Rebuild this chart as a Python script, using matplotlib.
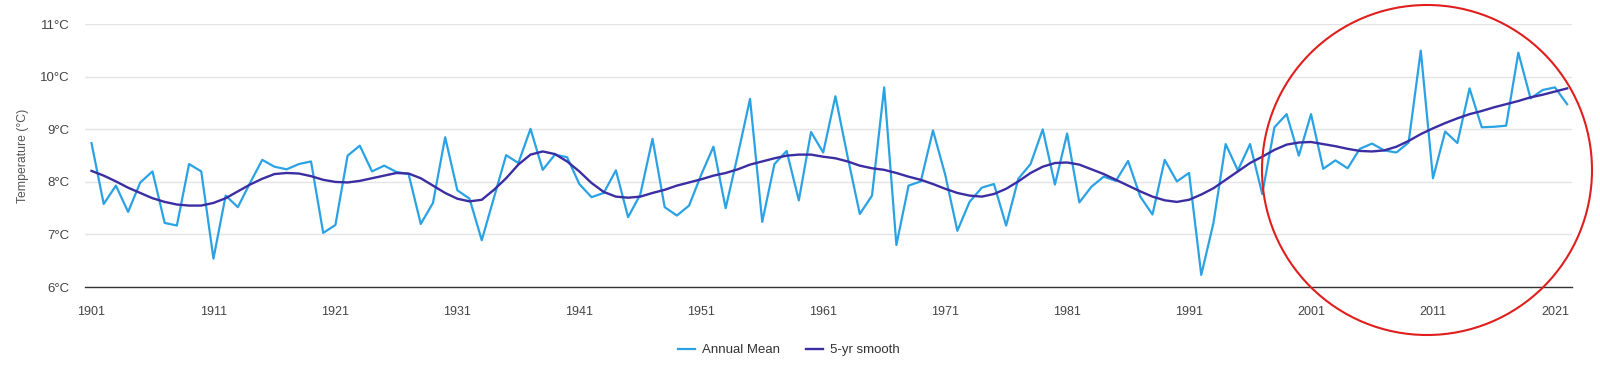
import matplotlib
matplotlib.use('Agg')
import numpy as np
import matplotlib.pyplot as plt
from matplotlib.patches import Ellipse

plt.rcParams['font.family'] = ['Liberation Sans', 'DejaVu Sans']

# years 1901-2022
years = np.arange(1901, 2023)

# annual mean temperature (°C)
annual_mean = [
    8.74, 7.58, 7.93, 7.43, 7.99, 8.20, 7.22, 7.17, 8.34, 8.20,   # 1901-1910
    6.54, 7.74, 7.52, 7.98, 8.42, 8.29, 8.24, 8.34, 8.39, 7.03,   # 1911-1920
    7.18, 8.50, 8.69, 8.20, 8.31, 8.19, 8.15, 7.20, 7.60, 8.85,   # 1921-1930
    7.84, 7.68, 6.89, 7.70, 8.51, 8.36, 9.01, 8.23, 8.52, 8.47,   # 1931-1940
    7.96, 7.71, 7.79, 8.22, 7.33, 7.76, 8.82, 7.52, 7.36, 7.55,   # 1941-1950
    8.14, 8.67, 7.50, 8.52, 9.58, 7.24, 8.34, 8.59, 7.65, 8.95,   # 1951-1960
    8.56, 9.63, 8.48, 7.39, 7.74, 9.80, 6.80, 7.93, 8.01, 8.98,   # 1961-1970
    8.14, 7.07, 7.62, 7.89, 7.96, 7.17, 8.06, 8.34, 9.00, 7.95,   # 1971-1980
    8.92, 7.61, 7.91, 8.10, 8.02, 8.40, 7.72, 7.38, 8.42, 8.01,   # 1981-1990
    8.17, 6.23, 7.22, 8.72, 8.22, 8.72, 7.77, 9.04, 9.29, 8.50,   # 1991-2000
    9.29, 8.25, 8.41, 8.26, 8.63, 8.73, 8.60, 8.56, 8.75, 10.50,  # 2001-2010
    8.07, 8.96, 8.74, 9.78, 9.04, 9.05, 9.07, 10.46, 9.59, 9.75,  # 2011-2020
    9.80, 9.48,                                                   # 2021-2022
]

# 5-yr smooth
smooth = [
    8.21, 8.12, 8.01, 7.89, 7.79, 7.69, 7.62, 7.57, 7.55, 7.55,
    7.60, 7.69, 7.82, 7.95, 8.06, 8.15, 8.17, 8.16, 8.11, 8.04,
    8.00, 7.99, 8.02, 8.07, 8.12, 8.17, 8.16, 8.07, 7.93, 7.79,
    7.68, 7.63, 7.66, 7.85, 8.07, 8.33, 8.52, 8.58, 8.53, 8.39,
    8.20, 7.98, 7.81, 7.72, 7.70, 7.72, 7.79, 7.85, 7.93, 7.99,
    8.05, 8.12, 8.17, 8.24, 8.33, 8.39, 8.45, 8.50, 8.52, 8.52,
    8.48, 8.45, 8.39, 8.31, 8.26, 8.23, 8.17, 8.10, 8.04, 7.96,
    7.87, 7.79, 7.74, 7.72, 7.77, 7.87, 8.01, 8.17, 8.29, 8.36,
    8.37, 8.33, 8.24, 8.15, 8.04, 7.93, 7.82, 7.72, 7.65, 7.62,
    7.66, 7.76, 7.88, 8.04, 8.20, 8.36, 8.48, 8.61, 8.71, 8.75,
    8.76, 8.72, 8.68, 8.63, 8.59, 8.58, 8.60, 8.67, 8.78, 8.91,
    9.02, 9.12, 9.21, 9.29, 9.35, 9.42, 9.48, 9.54, 9.61, 9.66,
    9.72, 9.78,
]

y_ticks = [6, 7, 8, 9, 10, 11]
x_ticks = [1901, 1911, 1921, 1931, 1941, 1951, 1961, 1971, 1981, 1991, 2001, 2011, 2021]

fig = plt.figure(figsize=(16, 3.81), dpi=100, facecolor='white')
ax = fig.add_axes([0.053, 0.2467, 0.9295, 0.6895])

ax.plot(years, annual_mean, color='#2aa2e4', lw=1.6, label='Annual Mean', zorder=3)
ax.plot(years, smooth, color='#3b2ea3', lw=1.7, label='5-yr smooth', zorder=4)

ax.set_xlim(1900.45, 2022.4)
ax.set_ylim(6, 11)
ax.set_yticks(y_ticks)
ax.set_yticklabels(['%d°C' % t for t in y_ticks])
ax.set_xticks(x_ticks)
ax.set_xticklabels([str(t) for t in x_ticks])

ax.grid(axis='y', color='#e4e4e4', lw=1.0)
ax.set_axisbelow(True)
for s in ['top', 'right', 'left']:
    ax.spines[s].set_visible(False)
ax.spines['bottom'].set_color('#333333')
ax.spines['bottom'].set_linewidth(1.0)
ax.spines['bottom'].set_zorder(5)
ax.tick_params(axis='both', length=0, labelsize=9, colors='#444444')
ax.tick_params(axis='x', pad=14)
ax.tick_params(axis='y', pad=11, labelsize=9.5)
ax.set_ylabel('Temperature (°C)', fontsize=8.8, color='#555555', labelpad=8)

fig.legend(loc='center', bbox_to_anchor=(0.493, 0.081), ncol=2, frameon=False,
           fontsize=9.5, handlelength=1.3, handletextpad=0.5, columnspacing=2.0,
           labelcolor='#333333')

# red circle highlighting the recent years
circ = Ellipse((1427 / 1600, 1 - 170 / 381), 330 / 1600, 330 / 381,
               transform=fig.transFigure, fill=False, edgecolor='#e01e1e', lw=1.5,
               clip_on=False, zorder=10)
fig.add_artist(circ)

fig.savefig('out.png', dpi=100)
